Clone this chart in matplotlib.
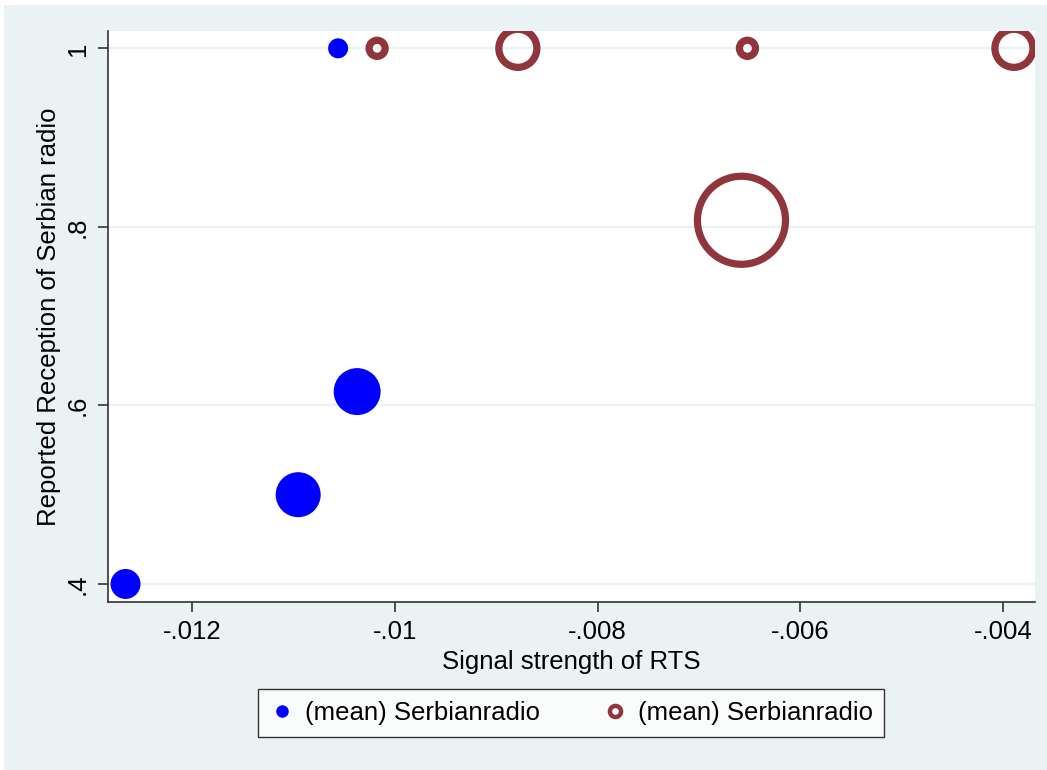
import matplotlib.pyplot as plt
from matplotlib.patches import Rectangle
from matplotlib.lines import Line2D

plt.rcParams['font.family'] = ['Liberation Sans', 'DejaVu Sans']

# weighted means, two groups of the same variable
blue_x = [-0.01266, -0.010956, -0.010374, -0.010562]
blue_y = [0.4, 0.5, 0.6155, 1.0]
blue_d = [21.6, 32.4, 33.8, 14.4]      # marker diameter, points

red_x = [-0.010177, -0.008788, -0.006522, -0.003892, -0.006581]
red_y = [1.0, 1.0, 1.0, 1.0, 0.8074]
red_d = [11.6, 27.4, 11.6, 27.4, 63.4]

xticks = [-0.012, -0.010, -0.008, -0.006, -0.004]
xtick_labels = ['-.012', '-.01', '-.008', '-.006', '-.004']
yticks = [0.4, 0.6, 0.8, 1.0]
ytick_labels = ['.4', '.6', '.8', '1']

W, H = 1047, 770
fig = plt.figure(figsize=(W / 100, H / 100), dpi=100, facecolor='white')
bg = '#eaf2f3'
fig.patches.append(Rectangle((4 / W, 0), 1 - 4 / W, 1 - 5 / H,
                             transform=fig.transFigure, facecolor=bg,
                             edgecolor='none', zorder=-10))

ax = fig.add_axes([108 / W, (H - 602) / H, (1035 - 108) / W, (602 - 31) / H])
ax.set_facecolor('white')

ax.scatter(blue_x, blue_y, s=[d ** 2 for d in blue_d], color='#0000ff',
           edgecolors='none', zorder=3)
ax.scatter(red_x, red_y, s=[d ** 2 for d in red_d], facecolors='none',
           edgecolors='#90353b', linewidths=5.2, zorder=3)

ax.set_xlim(-0.012833, -0.003684)
ax.set_ylim(0.3798, 1.0194)
ax.set_xticks(xticks)
ax.set_xticklabels(xtick_labels)
ax.set_yticks(yticks)
ax.set_yticklabels(ytick_labels, rotation=90, va='center')
ax.grid(axis='y', color=bg, linewidth=1.6, zorder=0)
ax.set_axisbelow(True)

for s in ['top', 'right']:
    ax.spines[s].set_visible(False)
for s in ['left', 'bottom']:
    ax.spines[s].set_color('#333333')
    ax.spines[s].set_linewidth(1.2)
ax.tick_params(axis='both', length=7.2, width=1.2, color='#333333',
               labelsize=18.5, pad=6)

ax.set_xlabel('Signal strength of RTS', fontsize=18.5, labelpad=4)
ax.set_ylabel('Reported Reception of Serbian radio', fontsize=18.5, labelpad=3)

handles = [
    Line2D([], [], linestyle='none', marker='o', markersize=9,
           markerfacecolor='#0000ff', markeredgecolor='none'),
    Line2D([], [], linestyle='none', marker='o', markersize=8,
           markerfacecolor='none', markeredgecolor='#90353b',
           markeredgewidth=3.2),
]
leg = fig.legend(handles, ['(mean) Serbianradio', '(mean) Serbianradio'],
                 loc='center', bbox_to_anchor=(571 / W, (H - 713) / H),
                 ncol=2, fontsize=18.5, frameon=True, fancybox=False,
                 edgecolor='black', borderpad=0.45, handletextpad=0.4,
                 columnspacing=2.4, handlelength=1.0)
leg.get_frame().set_linewidth(1.0)

fig.savefig('out.png', dpi=100, facecolor=fig.get_facecolor())
